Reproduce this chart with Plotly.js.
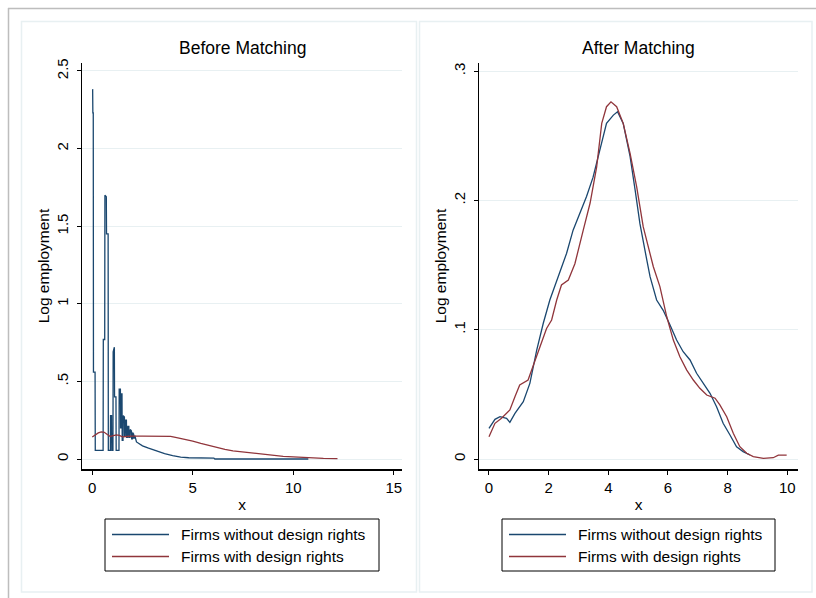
<!DOCTYPE html>
<html><head><meta charset="utf-8">
<script src="https://cdn.plot.ly/plotly-3.0.1.min.js"></script>
<style>html,body{margin:0;padding:0;background:#fff}#chart{width:816px;height:598px}</style>
</head><body><div id="chart"></div>
<script>
// ---- Before Matching: firms without design rights (blue) ----
const beforeWithoutX = [0.00,0.02,0.03,0.05,0.06,0.14,0.15,0.54,0.55,0.62,0.63,0.70,0.71,0.79,0.80,0.90,0.91,0.96,0.97,1.03,1.04,1.10,1.11,1.18,1.19,1.33,1.34,1.40,1.41,1.43,1.44,1.48,1.49,1.53,1.54,1.60,1.61,1.64,1.65,1.70,1.71,1.76,1.77,1.82,1.83,1.88,1.89,1.95,1.96,2.00,2.01,2.06,2.07,2.12,2.20,2.30,2.50,2.80,3.00,3.30,3.60,4.00,4.40,4.80,5.50,6.05,6.10,10.75];
const beforeWithoutY = [2.38,2.38,2.23,2.23,0.56,0.56,0.055,0.055,0.77,0.77,1.70,1.69,1.45,1.45,0.055,0.055,0.28,0.28,0.055,0.055,0.69,0.72,0.40,0.40,0.055,0.055,0.45,0.45,0.20,0.20,0.42,0.42,0.12,0.12,0.28,0.27,0.15,0.15,0.25,0.25,0.14,0.14,0.21,0.21,0.14,0.14,0.19,0.18,0.13,0.13,0.17,0.16,0.13,0.15,0.11,0.10,0.085,0.07,0.06,0.045,0.035,0.022,0.012,0.008,0.007,0.006,0.0,0.0];
// ---- Before Matching: firms with design rights (red) ----
const beforeWithX = [0.0,0.15,0.3,0.45,0.6,0.75,0.9,1.05,1.2,1.35,1.5,1.7,2.0,2.5,3.0,3.5,3.9,4.2,4.6,5.0,5.4,5.8,6.2,6.6,7.0,7.5,8.0,8.5,9.0,9.5,10.0,10.5,11.0,11.5,12.2];
const beforeWithY = [0.142,0.155,0.168,0.175,0.172,0.158,0.145,0.150,0.155,0.152,0.143,0.145,0.148,0.148,0.148,0.148,0.146,0.138,0.128,0.115,0.100,0.086,0.074,0.062,0.053,0.045,0.038,0.030,0.022,0.017,0.014,0.010,0.006,0.004,0.003];
// ---- After Matching: firms without design rights (blue) ----
const afterWithoutX = [0.0,0.2,0.37,0.59,0.7,0.87,1.15,1.37,1.6,1.82,2.04,2.27,2.49,2.6,2.82,3.05,3.27,3.49,3.72,3.94,4.17,4.31,4.5,4.73,4.9,5.06,5.29,5.40,5.62,5.84,6.07,6.29,6.51,6.74,6.96,7.18,7.41,7.63,7.85,8.08,8.3,8.52,8.75];
const afterWithoutY = [0.0237,0.0307,0.0327,0.0315,0.0284,0.0353,0.0443,0.0585,0.0843,0.105,0.123,0.138,0.151,0.159,0.177,0.190,0.203,0.218,0.239,0.2596,0.266,0.2686,0.2596,0.234,0.208,0.182,0.154,0.141,0.123,0.115,0.1036,0.092,0.083,0.0766,0.0663,0.0585,0.0508,0.0405,0.0276,0.0186,0.0095,0.0057,0.0031];
// ---- After Matching: firms with design rights (red) ----
const afterWithX = [0.0,0.2,0.42,0.7,0.87,1.03,1.31,1.48,1.71,1.93,2.1,2.27,2.43,2.66,2.88,3.16,3.39,3.61,3.78,3.94,4.09,4.28,4.5,4.73,4.95,5.17,5.4,5.51,5.73,5.96,6.18,6.4,6.63,6.85,7.07,7.3,7.58,7.74,7.97,8.19,8.41,8.64,8.86,9.2,9.53,9.7,9.98];
const afterWithY = [0.0172,0.0276,0.0315,0.0379,0.0482,0.0572,0.0611,0.0714,0.0869,0.101,0.1075,0.123,0.1346,0.1384,0.151,0.177,0.198,0.226,0.2596,0.2725,0.2763,0.2725,0.2596,0.2364,0.2106,0.1797,0.159,0.1487,0.1333,0.110,0.092,0.0791,0.0688,0.0611,0.0547,0.0495,0.047,0.0418,0.0327,0.0199,0.0095,0.0044,0.0018,0.0005,0.001,0.003,0.003];

const seriesNames = ['Firms without design rights','Firms with design rights'];
const panelTitles = ['Before Matching','After Matching'];
const leftYTicks = [0,0.5,1,1.5,2,2.5], leftYText = ['0','.5','1','1.5','2','2.5'];
const rightYTicks = [0,0.1,0.2,0.3], rightYText = ['0','.1','.2','.3'];
const leftXTicks = [0,5,10,15];
const rightXTicks = [0,2,4,6,8,10];

const BLUE = '#1a476f', RED = '#90353b', GRID = '#e8f0f2';
const seriesColors = [BLUE, RED];
const W = 816, H = 598;
const fx = v => v / W, fy = v => 1 - v / H;
const FONT = 'Liberation Sans, Arial, Helvetica, sans-serif';

const traces = [
  {x: beforeWithoutX, y: beforeWithoutY, name: seriesNames[0], type: 'scatter', mode: 'lines', line: {color: BLUE, width: 1.3}, xaxis: 'x', yaxis: 'y', showlegend: false},
  {x: beforeWithX, y: beforeWithY, name: seriesNames[1], type: 'scatter', mode: 'lines', line: {color: RED, width: 1.3}, xaxis: 'x', yaxis: 'y', showlegend: false},
  {x: afterWithoutX, y: afterWithoutY, name: seriesNames[0], type: 'scatter', mode: 'lines', line: {color: BLUE, width: 1.3}, xaxis: 'x2', yaxis: 'y2', showlegend: false},
  {x: afterWithX, y: afterWithY, name: seriesNames[1], type: 'scatter', mode: 'lines', line: {color: RED, width: 1.3}, xaxis: 'x2', yaxis: 'y2', showlegend: false}
];

const yDom = [fy(469), fy(63)];
const axisCommon = {ticks: 'outside', ticklen: 4, tickwidth: 1, tickcolor: '#000', showline: true, linecolor: '#000', linewidth: 1.5, zeroline: false, fixedrange: true, tickfont: {size: 15, family: FONT}};
const xCommon = Object.assign({}, axisCommon, {showgrid: false, title: {text: 'x', font: {size: 15.5, family: FONT}, standoff: 4}});
const yCommon = Object.assign({}, axisCommon, {showgrid: true, gridcolor: GRID, gridwidth: 1, tickangle: -90, ticklabelstandoff: 3, title: {text: 'Log employment', font: {size: 15.5, family: FONT}, standoff: 0}});

// Legend drawn as a framed key beneath each panel
const legendBoxes = [{x0: 105, x1: 379}, {x0: 502, x1: 775}];
const shapes = [
  {type: 'line', xref: 'paper', yref: 'paper', x0: fx(8), x1: 1, y0: fy(8.5), y1: fy(8.5), line: {color: '#bdbdbd', width: 1.5}, layer: 'below'},
  {type: 'line', xref: 'paper', yref: 'paper', x0: fx(8.5), x1: fx(8.5), y0: fy(8), y1: 0, line: {color: '#bdbdbd', width: 1.5}, layer: 'below'},
  {type: 'rect', xref: 'paper', yref: 'paper', x0: fx(21.5), x1: fx(416.5), y0: fy(592), y1: fy(21.5), line: {color: GRID, width: 1.5}, layer: 'below'},
  {type: 'rect', xref: 'paper', yref: 'paper', x0: fx(419.5), x1: fx(812), y0: fy(592), y1: fy(21.5), line: {color: GRID, width: 1.5}, layer: 'below'}
];
const annotations = [
  {text: panelTitles[0], xref: 'paper', yref: 'paper', x: fx(242), y: fy(48), xanchor: 'center', yanchor: 'middle', showarrow: false, font: {size: 17.5, family: FONT}},
  {text: panelTitles[1], xref: 'paper', yref: 'paper', x: fx(638), y: fy(48), xanchor: 'center', yanchor: 'middle', showarrow: false, font: {size: 17.5, family: FONT}}
];
const rowY = [534.5, 556.5];
legendBoxes.forEach(b => {
  shapes.push({type: 'rect', xref: 'paper', yref: 'paper', x0: fx(b.x0), x1: fx(b.x1), y0: fy(571), y1: fy(519), line: {color: '#000', width: 1}, fillcolor: '#fff'});
  seriesNames.forEach((nm, i) => {
    shapes.push({type: 'line', xref: 'paper', yref: 'paper', x0: fx(b.x0 + 7), x1: fx(b.x0 + 64), y0: fy(rowY[i]), y1: fy(rowY[i]), line: {color: seriesColors[i], width: 1.5}});
    annotations.push({text: nm, xref: 'paper', yref: 'paper', x: fx(b.x0 + 74), y: fy(rowY[i]), xanchor: 'left', yanchor: 'middle', showarrow: false, font: {size: 15.5, family: FONT}});
  });
});

const layout = {
  width: W, height: H, margin: {l: 0, r: 0, t: 0, b: 0}, paper_bgcolor: '#fff', plot_bgcolor: '#fff',
  font: {family: FONT, color: '#000', size: 15},
  showlegend: false,
  xaxis: Object.assign({}, xCommon, {domain: [fx(82), fx(402)], range: [-0.51, 15.41], tickvals: leftXTicks, anchor: 'y'}),
  yaxis: Object.assign({}, yCommon, {domain: yDom, range: [-0.0644, 2.5515], tickvals: leftYTicks, ticktext: leftYText, anchor: 'x'}),
  xaxis2: Object.assign({}, xCommon, {domain: [fx(479), fx(798)], range: [-0.335, 10.36], tickvals: rightXTicks, anchor: 'y2'}),
  yaxis2: Object.assign({}, yCommon, {domain: yDom, range: [-0.00773, 0.3063], tickvals: rightYTicks, ticktext: rightYText, anchor: 'x2'}),
  annotations: annotations,
  shapes: shapes
};

Plotly.newPlot('chart', traces, layout, {staticPlot: true, displayModeBar: false});
</script>
</body></html>
